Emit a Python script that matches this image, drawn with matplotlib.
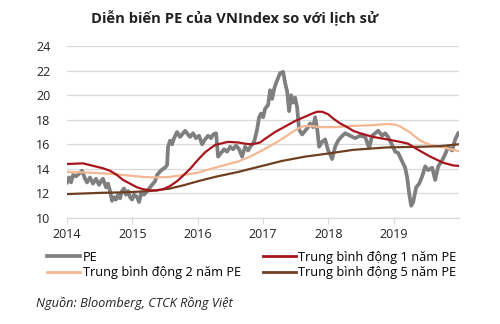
import matplotlib
matplotlib.use("Agg")
import matplotlib.pyplot as plt
import numpy as np

plt.rcParams['font.family'] = ['Open Sans', 'DejaVu Sans']

# ---- data (decimal years) ----
pe_x = [67, 69, 71, 73, 76, 79, 82, 85, 87, 90, 93, 96, 99, 101, 103, 106, 108, 110, 112, 114,
        116, 118, 120, 122, 124, 126, 128, 130, 132, 134, 137, 139, 141, 144, 147, 150, 152, 155,
        157, 160, 163, 165, 167, 168, 170, 172, 174, 177, 180, 183, 185, 188, 190, 193, 196, 199,
        202, 205, 208, 211, 213, 216, 218, 221, 224, 227, 230, 233, 236, 239, 242, 245, 248, 251,
        254, 257, 259, 261, 263, 265, 268, 270, 272, 274, 276, 278, 280, 283, 285, 287, 289, 291,
        293, 295, 297, 299, 302, 305, 308, 310, 313, 315, 317, 319, 322, 325, 328, 330, 332, 335,
        338, 341, 345, 350, 355, 360, 365, 369, 372, 375, 378, 382, 385, 388, 391, 395, 398, 402,
        405, 407, 409, 411, 413, 416, 419, 422, 425, 428, 432, 435, 438, 442, 445, 448, 452, 455, 458]
pe_years = [2014 + (p - 67) / 65.3 for p in pe_x]
pe_values = [12.9, 13.3, 12.9, 13.5, 13.4, 13.6, 13.85, 13.2, 12.9, 13.3, 12.8, 13.2, 12.7, 13.0,
             13.2, 12.5, 12.8, 12.2, 11.4, 11.7, 11.5, 11.9, 11.6, 12.2, 12.4, 11.9, 12.2, 11.7,
             11.5, 11.9, 11.7, 11.3, 12.0, 11.9, 12.2, 12.5, 12.7, 13.0, 13.5, 13.8, 14.0, 14.1,
             14.3, 15.8, 16.3, 16.0, 16.5, 17.0, 16.6, 16.9, 17.1, 16.8, 16.6, 16.9, 16.5, 16.7,
             16.0, 16.4, 16.7, 16.5, 16.8, 16.9, 15.0, 15.3, 15.6, 15.4, 15.8, 15.6, 15.9, 15.6,
             15.0, 15.8, 15.5, 15.9, 16.2, 17.2, 18.2, 18.5, 18.2, 18.9, 19.2, 20.4, 19.7, 20.5,
             21.0, 21.4, 21.8, 21.9, 21.0, 20.3, 18.7, 20.0, 19.4, 19.8, 19.0, 17.2, 16.8, 17.1,
             17.4, 17.7, 17.4, 18.2, 17.3, 15.8, 16.2, 16.4, 15.5, 15.2, 14.8, 15.8, 16.3, 16.6,
             16.9, 16.7, 16.5, 16.7, 16.6, 15.7, 16.7, 16.9, 17.1, 16.7, 16.9, 16.6, 16.1, 15.4,
             15.3, 14.6, 14.1, 13.3, 12.0, 11.0, 11.3, 12.5, 12.8, 13.4, 14.2, 13.9, 14.1, 13.1,
             14.2, 14.7, 15.2, 15.8, 15.5, 16.4, 16.9]

ma1_x = [67, 83, 93, 103, 110, 117, 123, 130, 137, 143, 150, 157, 163, 170, 177, 183, 190, 198,
         205, 215, 228, 238, 245, 252, 260, 265, 275, 285, 295, 305, 312, 317, 322, 328, 333, 340,
         347, 353, 360, 373, 387, 400, 408, 417, 430, 443, 453, 458]
ma1_years = [2014 + (p - 67) / 65.3 for p in ma1_x]
ma1_values = [14.4, 14.45, 14.25, 14.05, 13.85, 13.5, 13.1, 12.8, 12.5, 12.35, 12.25, 12.25, 12.35,
              12.6, 13.0, 13.45, 14.0, 14.75, 15.35, 15.95, 16.2, 16.15, 16.05, 16.0, 16.15, 16.45,
              17.0, 17.45, 17.9, 18.25, 18.5, 18.65, 18.65, 18.45, 18.1, 17.7, 17.4, 17.1, 16.9,
              16.6, 16.4, 16.2, 16.05, 15.6, 15.0, 14.5, 14.28, 14.25]

ma2_x = [67, 90, 110, 130, 143, 155, 170, 183, 198, 215, 238, 250, 262, 275, 285, 295, 302, 310,
         320, 335, 353, 370, 387, 395, 400, 410, 420, 430, 443, 458]
ma2_years = [2014 + (p - 67) / 65.3 for p in ma2_x]
ma2_values = [13.75, 13.7, 13.6, 13.45, 13.35, 13.3, 13.35, 13.5, 13.7, 14.1, 14.6, 15.0, 15.5,
              16.1, 16.6, 17.15, 17.45, 17.5, 17.4, 17.4, 17.5, 17.55, 17.65, 17.6, 17.45, 16.95,
              16.3, 15.95, 15.75, 15.45]

ma5_x = [67, 100, 127, 150, 170, 185, 198, 215, 238, 260, 282, 305, 328, 353, 387, 420, 440, 458]
ma5_years = [2014 + (p - 67) / 65.3 for p in ma5_x]
ma5_values = [11.95, 12.05, 12.1, 12.2, 12.4, 12.7, 13.0, 13.35, 13.75, 14.2, 14.65, 15.0, 15.25,
              15.55, 15.75, 15.8, 15.85, 16.0]

year_ticks = [2014, 2015, 2016, 2017, 2018, 2019]
y_ticks = [10, 12, 14, 16, 18, 20, 22, 24]

labels = ["PE", "Trung bình động 2 năm PE", "Trung bình động 1 năm PE", "Trung bình động 5 năm PE"]

# ---- figure ----
fig = plt.figure(figsize=(5.0, 3.24), dpi=100)
ax = fig.add_axes([0.134, 0.327, 0.784, 0.531])

c_pe = "#7f7f7f"
c_ma1 = "#a8141c"
c_ma2 = "#f4b793"
c_ma5 = "#6e4021"

l_pe, = ax.plot(pe_years, pe_values, color=c_pe, lw=2.7, solid_joinstyle='round', zorder=3)
l_ma2, = ax.plot(ma2_years, ma2_values, color=c_ma2, lw=1.6, zorder=4)
l_ma1, = ax.plot(ma1_years, ma1_values, color=c_ma1, lw=1.6, zorder=5)
l_ma5, = ax.plot(ma5_years, ma5_values, color=c_ma5, lw=1.6, zorder=4)

ax.set_xlim(2014, 2020)
ax.set_ylim(10, 24)
ax.set_yticks(y_ticks)
ax.set_xticks(year_ticks)
ax.set_xticklabels([str(y) for y in year_ticks])
ax.grid(axis='y', color='#d9d9d9', lw=0.9)
ax.set_axisbelow(True)
for s in ['top', 'right', 'left']:
    ax.spines[s].set_visible(False)
ax.spines['bottom'].set_color('#d9d9d9')
ax.spines['bottom'].set_linewidth(0.9)
ax.tick_params(axis='y', length=0, pad=12, labelsize=9, labelcolor='#222222')
ax.tick_params(axis='x', length=4, color='#d9d9d9', pad=3, labelsize=9, labelcolor='#222222')

fig.text(0.47, 0.947, "Diễn biến PE của VNIndex so với lịch sử", ha='center', va='center',
         fontsize=10.6, fontweight='bold', color='#222222')

leg = fig.legend([l_pe, l_ma2, l_ma1, l_ma5], labels, ncol=2, frameon=False,
                 loc='upper left', bbox_to_anchor=(0.094, 0.226), fontsize=9.2,
                 handlelength=2.6, handletextpad=0.2, columnspacing=1.7, labelspacing=0.2,
                 borderaxespad=0, borderpad=0)
for lh, w in zip(leg.get_lines(), [2.7, 2.0, 2.0, 2.0]):
    lh.set_linewidth(w)

fig.text(0.072, 0.065, "Nguồn: Bloomberg, CTCK Rồng Việt", ha='left', va='center',
         fontsize=9.2, style='italic', color='#222222')

fig.savefig("out.png", dpi=100, facecolor='white')
